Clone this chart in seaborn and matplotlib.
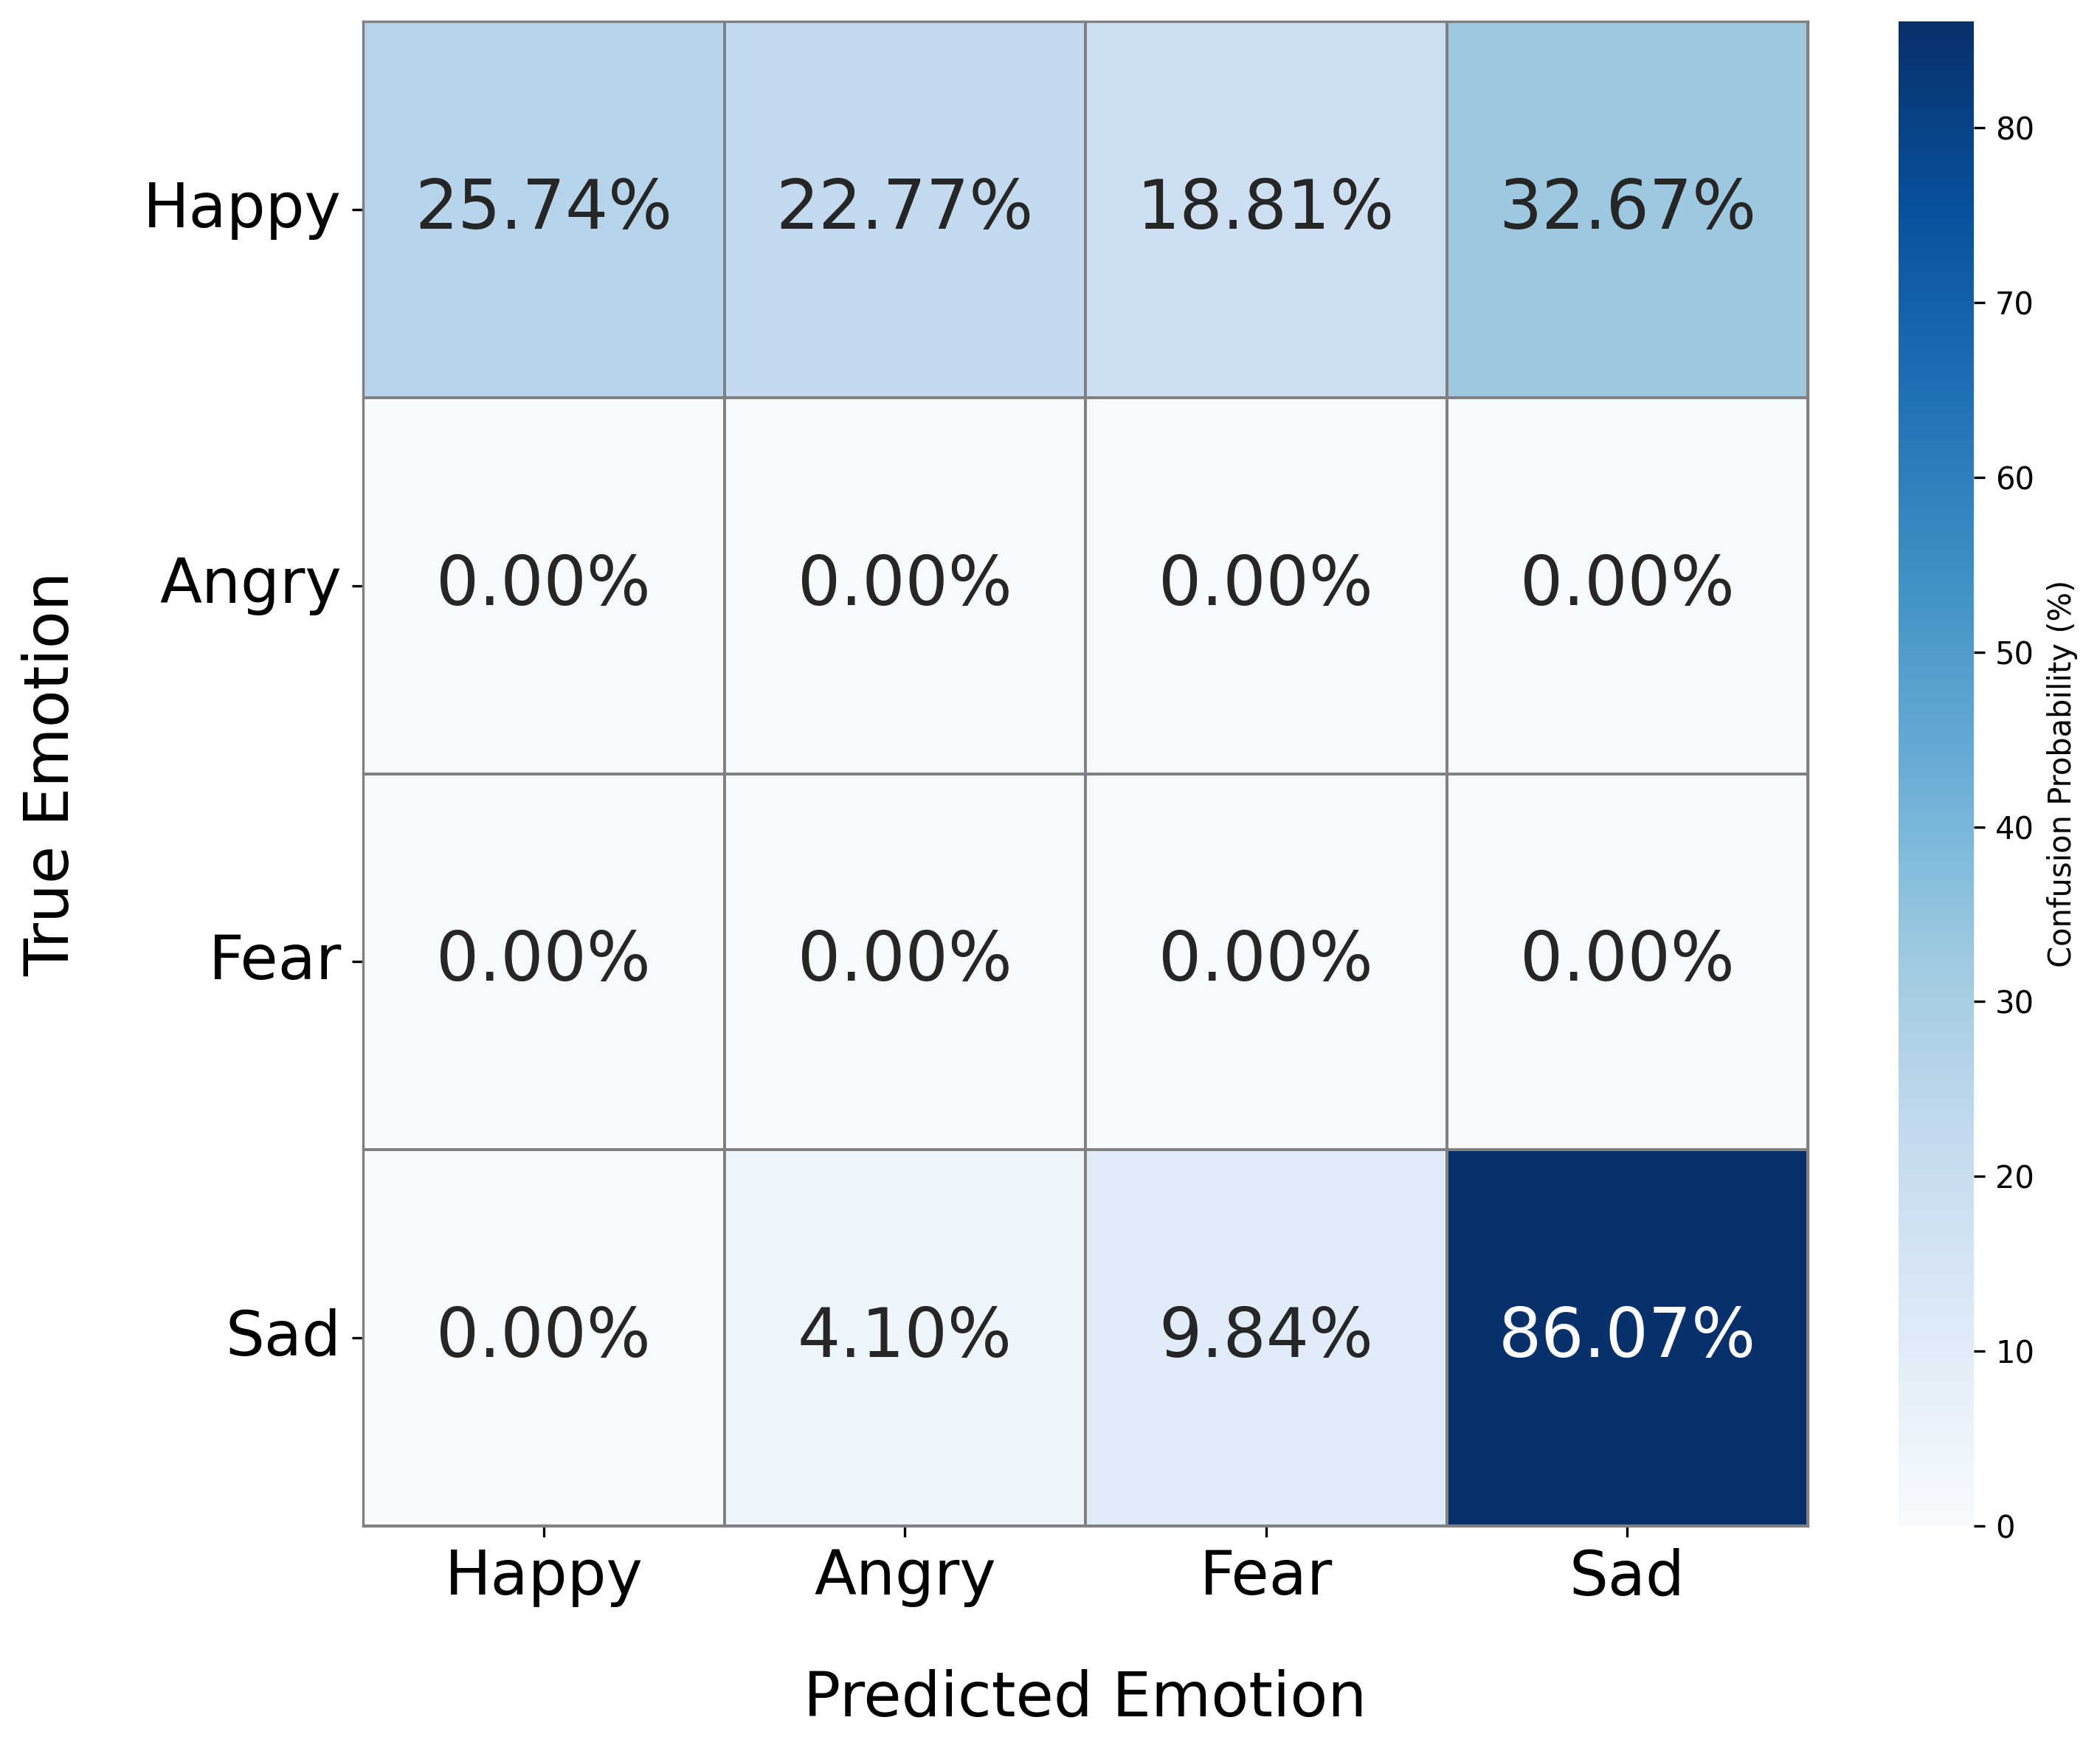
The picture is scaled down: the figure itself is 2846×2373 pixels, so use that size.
import numpy as np
import seaborn as sns
import matplotlib.pyplot as plt

emotions = ['Happy', 'Angry', 'Fear', 'Sad']
row_happy = [25.74, 22.77, 18.81, 32.67]
row_angry = [0.00, 0.00, 0.00, 0.00]
row_fear = [0.00, 0.00, 0.00, 0.00]
row_sad = [0.00, 4.10, 9.84, 86.07]

cm = np.array([row_happy, row_angry, row_fear, row_sad])
labels = np.array([[f"{v:.2f}%" for v in row] for row in cm])

fig = plt.figure(figsize=(2846 / 300, 2373 / 300), dpi=300)
ax = fig.add_axes([0.1729, 0.1285, 0.688, 0.8592])
cax = fig.add_axes([0.9041, 0.1285, 0.0358, 0.8592])

sns.heatmap(cm, annot=labels, fmt='', cmap='Blues', ax=ax, cbar_ax=cax,
            xticklabels=emotions, yticklabels=emotions,
            linewidths=0.5, linecolor='gray',
            annot_kws={'size': 22},
            cbar_kws={'label': 'Confusion Probability (%)'})

# outer frame
for s in ax.spines.values():
    s.set_visible(True)
    s.set_color('gray')
    s.set_linewidth(0.8)

ax.set_xlabel('Predicted Emotion', fontsize=20, labelpad=20)
ax.set_ylabel('True Emotion', fontsize=20, labelpad=20)
ax.tick_params(axis='both', labelsize=20)
plt.setp(ax.get_yticklabels(), rotation=0)
plt.setp(ax.get_xticklabels(), rotation=0)

cax.tick_params(labelsize=10)
cax.yaxis.label.set_size(10)

fig.savefig('out.png', dpi=300)
